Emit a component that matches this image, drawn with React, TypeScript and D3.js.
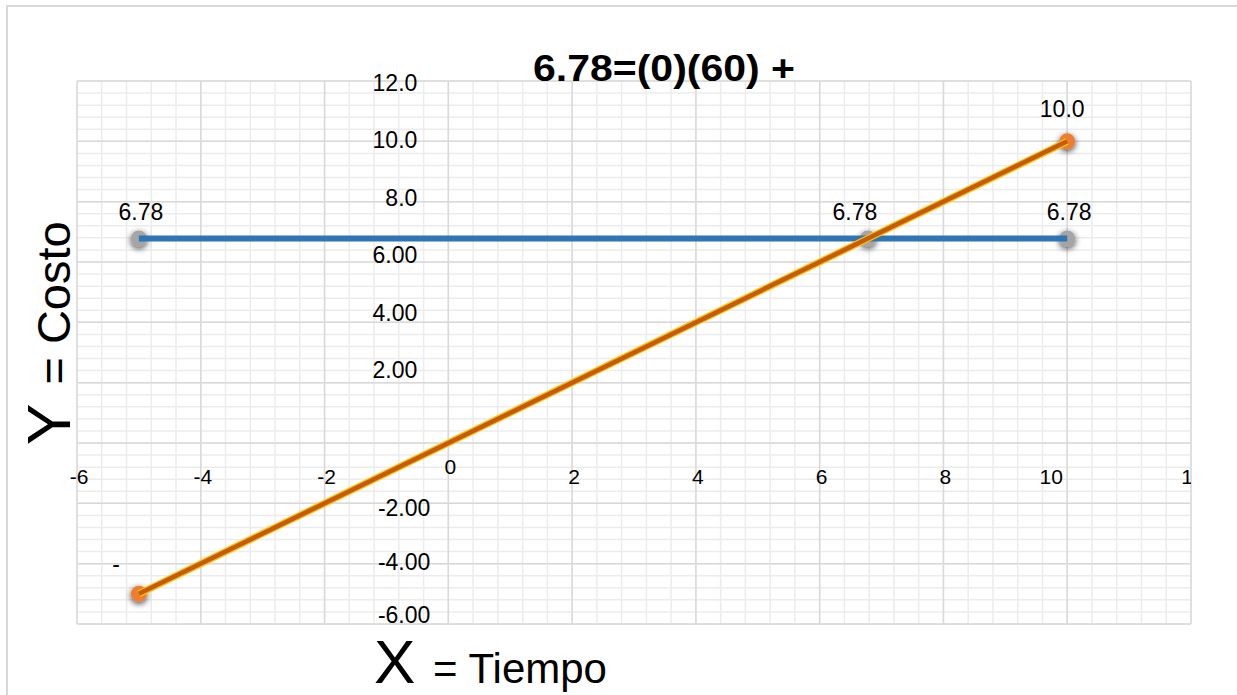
import React, { useEffect, useRef } from 'react';
import * as d3 from 'd3';

// tick values / labels
const xTicks = [-6, -4, -2, 0, 2, 4, 6, 8, 10, 12];
const yTickValues = [12, 10, 8, 6, 4, 2, -2, -4, -6];
const yTickLabels = ['12.0', '10.0', '8.0', '6.00', '4.00', '2.00', '-2.00', '-4.00', '-6.00'];

// blue series (costo fijo)
const costX = [-5, 6.78, 10];
const costY = [6.78, 6.78, 6.78];
const costLabels = ['6.78', '6.78', '6.78'];

// orange series
const lineX = [-5, 10];
const lineY = [-5, 10];
const lineLabels = ['-', '10.0'];

const title = '6.78=(0)(60) +';

const FONT = '"Liberation Sans", Arial, Helvetica, sans-serif';

const App = () => {
  const ref = useRef<SVGSVGElement | null>(null);

  useEffect(() => {
    document.body.style.margin = '0';
    const svg = d3.select(ref.current);
    svg.selectAll('*').remove();

    const width = 1237;
    const height = 695;

    const x = d3.scaleLinear().domain([-6, 12]).range([77, 1191]);
    const y = d3.scaleLinear().domain([-6, 12]).range([624, 81]);
    // the value labels drift a bit from their gridlines in the original
    const yLabel = d3.scaleLinear().domain([-6, -2, 2, 12]).range([623, 516, 378, 91]);

    const defs = svg.append('defs');
    const f = defs
      .append('filter')
      .attr('id', 'shadow')
      .attr('x', '-100%')
      .attr('y', '-100%')
      .attr('width', '300%')
      .attr('height', '300%');
    f.append('feDropShadow')
      .attr('dx', 0)
      .attr('dy', 2)
      .attr('stdDeviation', 3)
      .attr('flood-color', '#000')
      .attr('flood-opacity', 0.75);
    defs
      .append('clipPath')
      .attr('id', 'plotclip')
      .append('rect')
      .attr('x', 0)
      .attr('y', 0)
      .attr('width', 1191)
      .attr('height', height);

    svg.append('rect').attr('width', width).attr('height', height).attr('fill', '#fff');

    // outer frame
    svg
      .append('path')
      .attr('d', `M7,${height} L7,6 L${width},6`)
      .attr('fill', 'none')
      .attr('stroke', '#d9d9d9')
      .attr('stroke-width', 2);

    // minor grid
    const minor = d3.range(-6, 12.001, 0.4);
    const grid = svg.append('g');
    grid
      .selectAll('.vx')
      .data(minor)
      .enter()
      .append('line')
      .attr('x1', (d) => x(d))
      .attr('x2', (d) => x(d))
      .attr('y1', y(12))
      .attr('y2', y(-6))
      .attr('stroke', '#ececec')
      .attr('stroke-width', 1.5);
    grid
      .selectAll('.hy')
      .data(minor)
      .enter()
      .append('line')
      .attr('y1', (d) => y(d))
      .attr('y2', (d) => y(d))
      .attr('x1', x(-6))
      .attr('x2', x(12))
      .attr('stroke', '#ececec')
      .attr('stroke-width', 1.5);

    // major grid
    const major = d3.range(-6, 12.001, 2);
    grid
      .selectAll('.mx')
      .data(major)
      .enter()
      .append('line')
      .attr('x1', (d) => x(d))
      .attr('x2', (d) => x(d))
      .attr('y1', y(12))
      .attr('y2', y(-6))
      .attr('stroke', '#d9d9d9')
      .attr('stroke-width', 1.5);
    grid
      .selectAll('.my')
      .data(major)
      .enter()
      .append('line')
      .attr('y1', (d) => y(d))
      .attr('y2', (d) => y(d))
      .attr('x1', x(-6))
      .attr('x2', x(12))
      .attr('stroke', '#d9d9d9')
      .attr('stroke-width', 1.5);

    // x tick labels
    svg
      .append('g')
      .attr('clip-path', 'url(#plotclip)')
      .selectAll('text')
      .data(xTicks)
      .enter()
      .append('text')
      .attr('x', (d) => (d === 10 ? x(d) - 16 : x(d) + 2))
      .attr('y', (d) => y(0) + (d === 0 ? 31 : 41))
      .attr('text-anchor', 'middle')
      .attr('font-family', FONT)
      .attr('font-size', 21)
      .attr('fill', '#000')
      .text((d) => d);

    // y tick labels
    svg
      .append('g')
      .selectAll('text')
      .data(yTickValues)
      .enter()
      .append('text')
      .attr('x', (d) => (d > 0 ? x(0) - 31 : x(0) - 18))
      .attr('y', (d) => yLabel(d))
      .attr('text-anchor', 'end')
      .attr('font-family', FONT)
      .attr('font-size', 23)
      .attr('fill', '#000')
      .text((d, i) => yTickLabels[i]);

    const costPts = costX.map((v, i) => [v, costY[i]] as [number, number]);
    const linePts = lineX.map((v, i) => [v, lineY[i]] as [number, number]);

    const lineGen = d3
      .line<[number, number]>()
      .x((d) => x(d[0]))
      .y((d) => y(d[1]));

    // markers
    svg
      .append('g')
      .selectAll('circle')
      .data(costPts)
      .enter()
      .append('circle')
      .attr('cx', (d) => x(d[0]))
      .attr('cy', (d) => y(d[1]))
      .attr('r', 8)
      .attr('fill', '#a5a5a5')
      .attr('filter', 'url(#shadow)');

    svg
      .append('path')
      .datum(costPts)
      .attr('d', lineGen)
      .attr('fill', 'none')
      .attr('stroke', '#2e75b6')
      .attr('stroke-width', 6);

    svg
      .append('g')
      .selectAll('circle')
      .data(linePts)
      .enter()
      .append('circle')
      .attr('cx', (d) => x(d[0]))
      .attr('cy', (d) => y(d[1]))
      .attr('r', 8)
      .attr('fill', '#ed7d31')
      .attr('filter', 'url(#shadow)');

    svg
      .append('path')
      .datum(linePts)
      .attr('d', lineGen)
      .attr('fill', 'none')
      .attr('stroke', '#ffc000')
      .attr('stroke-width', 7);
    svg
      .append('path')
      .datum(linePts)
      .attr('d', lineGen)
      .attr('fill', 'none')
      .attr('stroke', '#c55a11')
      .attr('stroke-width', 4.5);

    // data labels
    svg
      .append('g')
      .selectAll('text')
      .data(costPts)
      .enter()
      .append('text')
      .attr('x', (d, i) => x(d[0]) + (i === 1 ? -13 : 2))
      .attr('y', (d) => y(d[1]) - 18)
      .attr('text-anchor', 'middle')
      .attr('font-family', FONT)
      .attr('font-size', 23)
      .attr('fill', '#000')
      .text((d, i) => costLabels[i]);

    svg
      .append('g')
      .selectAll('text')
      .data(linePts)
      .enter()
      .append('text')
      .attr('x', (d, i) => (i === 0 ? x(d[0]) - 19 : x(d[0]) - 5))
      .attr('y', (d, i) => (i === 0 ? y(d[1]) - 22 : y(d[1]) - 24))
      .attr('text-anchor', (d, i) => (i === 0 ? 'end' : 'middle'))
      .attr('font-family', FONT)
      .attr('font-size', 23)
      .attr('fill', '#000')
      .text((d, i) => lineLabels[i]);

    // title
    svg
      .append('text')
      .attr('x', 533)
      .attr('y', 81)
      .attr('font-family', FONT)
      .attr('font-weight', 'bold')
      .attr('font-size', 37)
      .attr('textLength', 262)
      .attr('lengthAdjust', 'spacingAndGlyphs')
      .attr('fill', '#000')
      .text(title);

    // axis titles
    const xt = svg
      .append('text')
      .attr('x', 374)
      .attr('y', 683)
      .attr('font-family', FONT)
      .attr('fill', '#000');
    xt.append('tspan').attr('font-size', 62).text('X');
    xt.append('tspan').attr('font-size', 42).attr('dx', 6).text(' = Tiempo');

    const yt = svg
      .append('text')
      .attr('transform', 'translate(70,445) rotate(-90)')
      .attr('font-family', FONT)
      .attr('fill', '#000');
    yt.append('tspan').attr('font-size', 62).text('Y');
    yt.append('tspan').attr('font-size', 47).attr('dx', 6).text(' = Costo');
  }, []);

  return <svg ref={ref} width={1237} height={695} style={{ display: 'block' }} />;
};

export default App;
